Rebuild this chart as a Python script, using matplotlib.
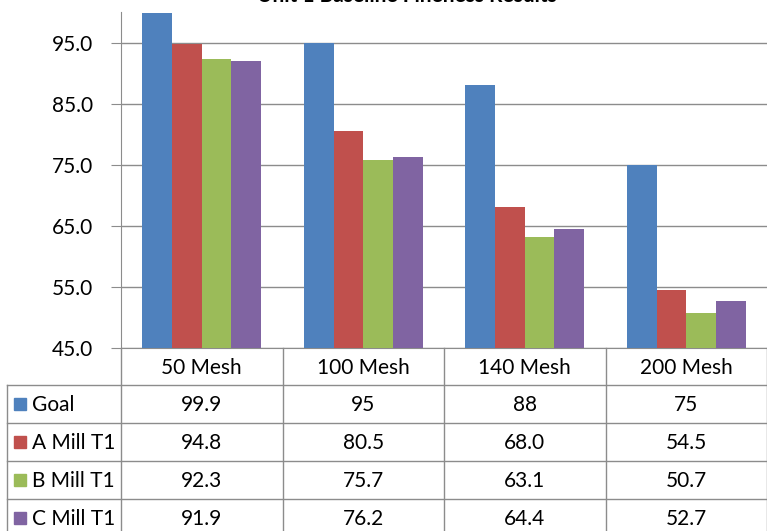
import matplotlib.pyplot as plt
from matplotlib.patches import Rectangle

categories = ['50 Mesh', '100 Mesh', '140 Mesh', '200 Mesh']
series = ['Goal', 'A Mill T1', 'B Mill T1', 'C Mill T1']
goal = [99.9, 95, 88, 75]
a_mill = [94.8, 80.5, 68.0, 54.5]
b_mill = [92.3, 75.7, 63.1, 50.7]
c_mill = [91.9, 76.2, 64.4, 52.7]
table_text = [
	['99.9', '95', '88', '75'],
	['94.8', '80.5', '68.0', '54.5'],
	['92.3', '75.7', '63.1', '50.7'],
	['91.9', '76.2', '64.4', '52.7'],
]
colors = ['#4F81BD', '#C0504D', '#9BBB59', '#8064A2']
yticks = [45, 55, 65, 75, 85, 95]

plt.rcParams['font.family'] = ['Lato', 'DejaVu Sans']

W, H = 767, 531
fig = plt.figure(figsize=(W / 100, H / 100), dpi=100)

def fx(px):
	return px / W

def fy(py):
	return (H - py) / H

# main plot area
ax_left, ax_right, ax_top, ax_bottom = 121, 767, 12, 348
ax = fig.add_axes([fx(ax_left), fy(ax_bottom), fx(ax_right - ax_left), (ax_bottom - ax_top) / H])
values = [goal, a_mill, b_mill, c_mill]
bw = 0.184
for i, vals in enumerate(values):
	xs = [k + (i - 1.5) * bw for k in range(len(categories))]
	ax.bar(xs, vals, width=bw, color=colors[i], zorder=3)
ax.set_xlim(-0.5, 3.5)
ax.set_ylim(45, 100)
ax.set_yticks(yticks)
ax.set_yticklabels([f'{v:.1f}' for v in yticks], fontsize=15)
ax.set_xticks([])
ax.grid(axis='y', color='#8c8c8c', linewidth=1, zorder=0)
for s in ['top', 'right']:
	ax.spines[s].set_visible(False)
ax.spines['left'].set_color('#8c8c8c')
ax.spines['bottom'].set_color('#8c8c8c')
ax.tick_params(axis='y', length=7, color='#8c8c8c', pad=13)

# title, cut at the top of the picture as in the original
fig.text(fx(407), fy(2), 'Unit 1 Baseline Fineness Results', ha='center', va='baseline',
	fontsize=15, fontweight='bold')

# data table below the plot
line_c = '#8c8c8c'
col_w = (ax_right - ax_left) / len(categories)
col_x = [ax_left + k * col_w for k in range(len(categories) + 1)]
row_y = [348, 385, 423, 461, 499, 537]
for x in col_x:
	fig.add_artist(plt.Line2D([fx(x), fx(x)], [fy(348), fy(540)], color=line_c, lw=1))
fig.add_artist(plt.Line2D([fx(7), fx(7)], [fy(385), fy(540)], color=line_c, lw=1))
for y in row_y[1:]:
	fig.add_artist(plt.Line2D([fx(7), fx(767)], [fy(y), fy(y)], color=line_c, lw=1))

for k, cat in enumerate(categories):
	cx = (col_x[k] + col_x[k + 1]) / 2
	fig.text(fx(cx), fy((row_y[0] + row_y[1]) / 2 + 1), cat, ha='center', va='center', fontsize=15)

for r, name in enumerate(series):
	cy = (row_y[r + 1] + row_y[r + 2]) / 2 + 1
	fig.add_artist(Rectangle((fx(14), fy(cy + 5)), fx(12), 12 / H, color=colors[r]))
	fig.text(fx(32), fy(cy), name, ha='left', va='center', fontsize=15)
	for k in range(len(categories)):
		cx = (col_x[k] + col_x[k + 1]) / 2
		fig.text(fx(cx), fy(cy), table_text[r][k], ha='center', va='center', fontsize=15)

fig.savefig('out.png', dpi=100)
